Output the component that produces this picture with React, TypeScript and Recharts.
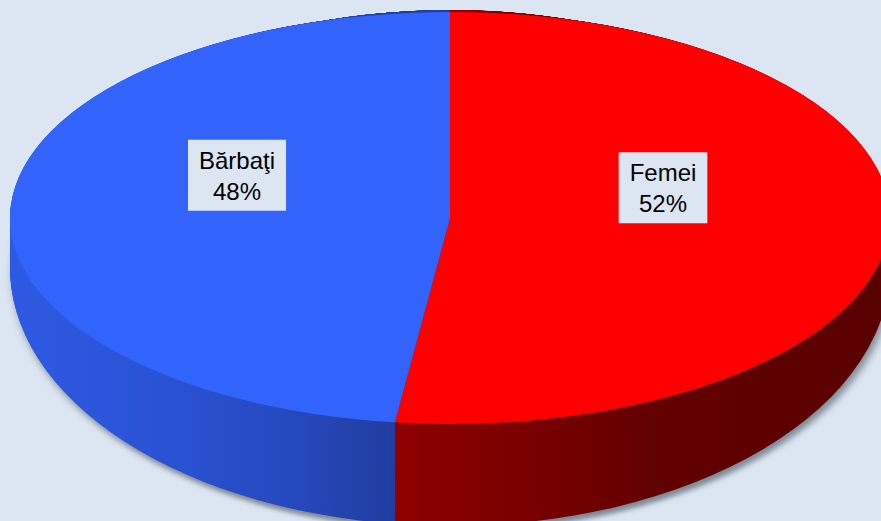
import React from 'react';
import { PieChart, Pie, Cell } from 'recharts';

// shares of the population by sex
const categories = ['Femei', 'Bărbaţi'];
const shares = [52, 48];

const topColors = ['#fe0000', '#3263fb'];
const sideColors = ['url(#sideRed)', 'url(#sideBlue)'];

const data = categories.map((name, i) => ({ name, value: shares[i] }));

const W = 881;
const H = 521;
// top face ellipse and the (perspective) bottom ellipse
const CX = 450;
const CY = 218;
const RX = 440;
const RY = 206;
const CY_BOTTOM = 268;
const RY_BOTTOM = 258;
const LAYERS = 64;

const LABEL_K = 0.485;
const LABEL_DY = -37;
const FONT = '"Liberation Sans", Arial, sans-serif';

const layerMatrix = (t: number, dx = 0, dy = 0) => {
  const cy = CY + t * (CY_BOTTOM - CY) + dy;
  const s = (RY + t * (RY_BOTTOM - RY)) / RX;
  return `matrix(1,0,0,${s.toFixed(5)},${dx},${(cy - s * CY).toFixed(3)})`;
};

const layerTs = Array.from({ length: LAYERS }, (_, i) => 1 - i / LAYERS);

const css = [
  `.pie3d-shadow{transform:${layerMatrix(1, 3, 5)};transform-origin:0 0;transform-box:view-box;filter:blur(4px);}`,
  ...layerTs.map((t, i) => `.pie3d-l${i}{transform:${layerMatrix(t)};transform-origin:0 0;transform-box:view-box;}`),
  `.pie3d-top{transform:${layerMatrix(0)};transform-origin:0 0;transform-box:view-box;}`,
  // the class is passed down to the sectors too: transform only once
  `[class*="pie3d-"] [class*="pie3d-"]{transform:none !important;filter:none !important;}`,
].join('\n');

let ctx: CanvasRenderingContext2D | null = null;
const measure = (s: string) => {
  if (!ctx) {
    ctx = document.createElement('canvas').getContext('2d');
  }
  if (!ctx) return s.length * 12;
  ctx.font = `24px ${FONT}`;
  return ctx.measureText(s).width;
};

const renderLabel = (props: any) => {
  const { cx, cy, midAngle, outerRadius, percent } = props;
  const name = props.name ?? props.payload?.name;
  const a = (-midAngle * Math.PI) / 180;
  const x = cx + LABEL_K * outerRadius * Math.cos(a);
  const y = cy + LABEL_K * outerRadius * (RY / RX) * Math.sin(a) + LABEL_DY;
  const pct = `${Math.round(percent * 100)}%`;
  const w = Math.max(measure(name), measure(pct)) + 22;
  return (
    <g key={name}>
      <rect x={x - w / 2} y={y - 35} width={w} height={71} fill="#dce6f2" />
      <text x={x} y={y - 6} textAnchor="middle" fontFamily={FONT} fontSize={24} fill="#000">
        {name}
      </text>
      <text x={x} y={y + 25} textAnchor="middle" fontFamily={FONT} fontSize={24} fill="#000">
        {pct}
      </text>
    </g>
  );
};

const pieBase = {
  data,
  dataKey: 'value',
  nameKey: 'name',
  cx: CX,
  cy: CY,
  outerRadius: RX,
  startAngle: 90,
  endAngle: -270,
  stroke: 'none',
  isAnimationActive: false,
};

export default function App() {
  return (
    <div style={{ position: 'absolute', left: 0, top: 0, width: W, height: H, background: '#dce6f2', overflow: 'hidden' }}>
      <style>{css}</style>
      <svg width={0} height={0} style={{ position: 'absolute' }}>
        <defs>
          <linearGradient id="sideBlue" gradientUnits="userSpaceOnUse" x1={0} y1={0} x2={W} y2={0}>
            <stop offset="0" stopColor="#2e5ae4" />
            <stop offset="0.2" stopColor="#2952d2" />
            <stop offset="0.34" stopColor="#2548bc" />
            <stop offset="0.452" stopColor="#203d9d" />
          </linearGradient>
          <linearGradient id="sideRed" gradientUnits="userSpaceOnUse" x1={0} y1={0} x2={W} y2={0}>
            <stop offset="0.45" stopColor="#8e0000" />
            <stop offset="0.6" stopColor="#790000" />
            <stop offset="0.74" stopColor="#630000" />
            <stop offset="1" stopColor="#590000" />
          </linearGradient>
        </defs>
      </svg>
      <PieChart width={W} height={H} margin={{ top: 0, right: 0, bottom: 0, left: 0 }}>
        <Pie {...pieBase} className="pie3d-shadow" fill="#7f8a96">
          {data.map((d) => (
            <Cell key={d.name} fill="#7f8a96" />
          ))}
        </Pie>
        {layerTs.map((t, li) => (
          <Pie key={`layer-${li}`} {...pieBase} className={`pie3d-l${li}`}>
            {data.map((d, i) => (
              <Cell key={d.name} fill={sideColors[i]} />
            ))}
          </Pie>
        ))}
        <Pie {...pieBase} className="pie3d-top">
          {data.map((d, i) => (
            <Cell key={d.name} fill={topColors[i]} />
          ))}
        </Pie>
        <Pie {...pieBase} fill="transparent" label={renderLabel} labelLine={false}>
          {data.map((d) => (
            <Cell key={d.name} fill="transparent" />
          ))}
        </Pie>
      </PieChart>
    </div>
  );
}
